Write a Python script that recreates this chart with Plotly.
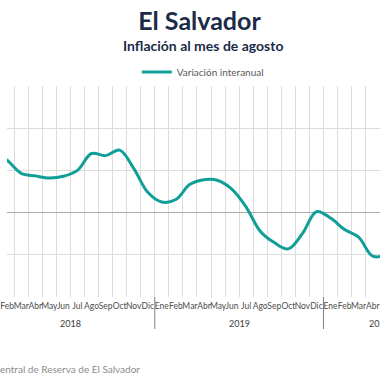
import plotly.graph_objects as go

# ---- data ----
years = ["2018"] * 12 + ["2019"] * 12 + ["2020"] * 8
months = (["Ene", "Feb", "Mar", "Abr", "May", "Jun", "Jul", "Ago", "Sep", "Oct", "Nov", "Dic"] * 2
          + ["Ene", "Feb", "Mar", "Abr", "May", "Jun", "Jul", "Ago"])
inflacion = [1.45, 1.24, 0.93, 0.87, 0.82, 0.86, 1.00, 1.40, 1.35, 1.48, 1.05, 0.48,
             0.25, 0.31, 0.67, 0.78, 0.76, 0.55, 0.13, -0.44, -0.71, -0.86, -0.50, 0.02,
             -0.13, -0.40, -0.58, -1.03, -0.98, -0.60, -0.50, -0.40]
year_labels = ["2018", "2019", "2020"]
series_name = "Variación interanual"

idx = list(range(len(inflacion)))
# group centres and boundaries derived from the data
groups = {}
for i, y in enumerate(years):
    groups.setdefault(y, []).append(i)
year_centres = [(groups[y][0] + groups[y][-1]) / 2 for y in year_labels]
year_bounds = [groups[y][-1] + 0.5 for y in year_labels[:-1]]
cat_bounds = [i - 0.5 for i in idx] + [idx[-1] + 0.5]

TEAL = "#0f9f98"
NAVY = "#1c2b48"
FONT = "Lato"
PLOT_H = 211

fig = go.Figure()
fig.add_trace(go.Scatter(
    x=idx, y=inflacion, mode="lines", name=series_name,
    line=dict(color=TEAL, width=3, shape="spline", smoothing=1.0),
    showlegend=True,
))

fig.update_layout(
    width=380, height=380,
    margin=dict(l=0, r=0, t=86, b=83),
    paper_bgcolor="white", plot_bgcolor="white",
    font=dict(family=FONT, color="#404040"),
    showlegend=True,
    legend=dict(orientation="h", x=0.525, xanchor="center", y=1 + (86 - 72) / PLOT_H,
                yanchor="middle",
                font=dict(size=10, color="#595959", family=FONT),
                bgcolor="rgba(0,0,0,0)"),
    title=dict(text="<b>El Salvador</b>", x=0.525, xanchor="center",
               y=1 - 21 / 380, yanchor="middle", yref="container",
               font=dict(size=25, color=NAVY, family=FONT)),
    xaxis=dict(
        range=[0.99, 27.52], showgrid=False, zeroline=False,
        tickmode="array", tickvals=idx, ticktext=months, tickangle=0,
        tickfont=dict(size=8.5, color="#4d4d4d", family=FONT),
        ticks="", showline=False, ticklabelstandoff=2, ticklabeloverflow="allow",
        minor=dict(tickmode="array", tickvals=cat_bounds, showgrid=True,
                   gridcolor="#dcdcdc", gridwidth=1, ticks=""),
    ),
    yaxis=dict(
        range=[-2, 3], dtick=1, tick0=0, showgrid=True, gridcolor="#dcdcdc", gridwidth=1,
        zeroline=True, zerolinecolor="#ababab", zerolinewidth=1,
        showticklabels=False, ticks="", showline=False,
    ),
)

annotations = [
    dict(text="<b>Inflación al mes de agosto</b>", xref="paper", yref="paper",
         x=0.525, xanchor="center", y=1 + (86 - 45) / PLOT_H, yanchor="middle",
         showarrow=False, font=dict(size=14, color=NAVY, family=FONT)),
    dict(text="Fuente: Banco Central de Reserva de El Salvador", xref="paper", yref="paper",
         x=138 / 380, xanchor="right", y=-(369 - 297) / PLOT_H, yanchor="middle",
         showarrow=False, font=dict(size=10, color="#8c8c8c", family=FONT)),
]
for yl, xc in zip(year_labels, year_centres):
    annotations.append(dict(text=yl, x=xc, xref="x", y=-(323 - 297) / PLOT_H, yref="paper",
                            xanchor="center", yanchor="middle", showarrow=False,
                            font=dict(size=9, color="#404040", family=FONT)))
fig.update_layout(annotations=annotations)

for xb in year_bounds:
    fig.add_shape(type="line", x0=xb, x1=xb, xref="x", y0=0, y1=-(329 - 297) / PLOT_H,
                  yref="paper", line=dict(color="#7f7f7f", width=1))

fig.write_html("out.html",
               config={"displayModeBar": False},
               post_script="document.body.style.margin='0';document.body.style.overflow='hidden';")
